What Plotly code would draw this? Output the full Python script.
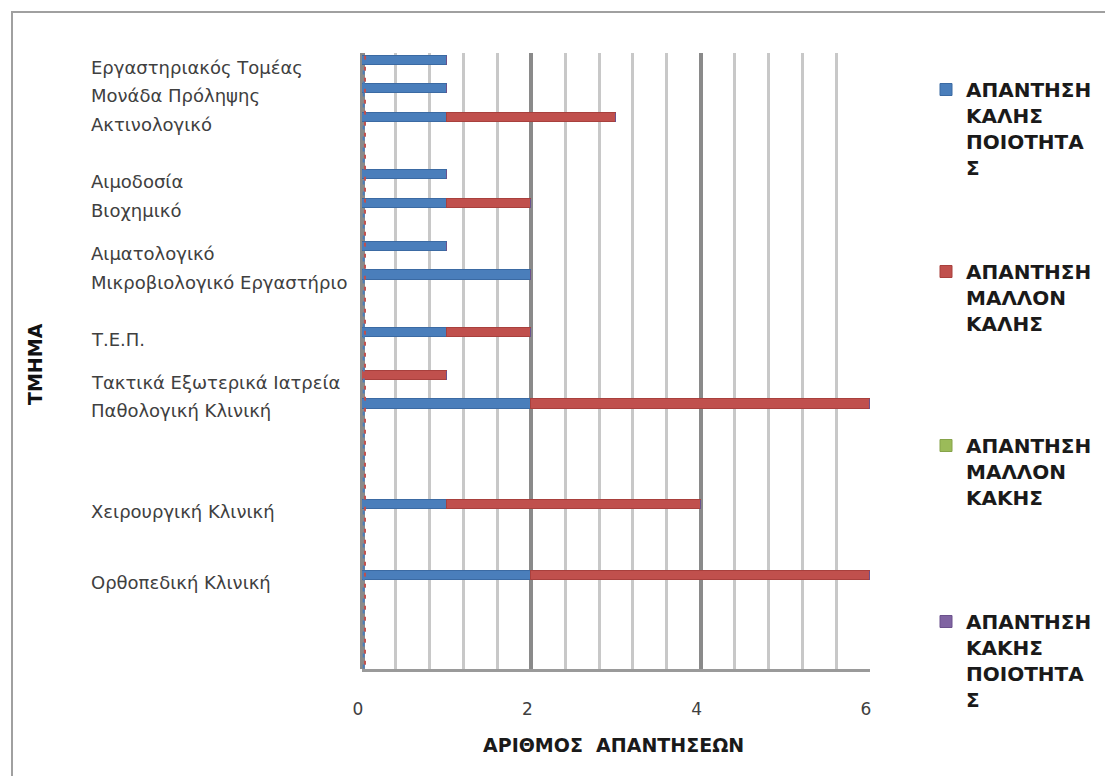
import plotly.graph_objects as go

# Departments (top to bottom) and the row slot each one occupies on the axis
departments = [
    "Εργαστηριακός Τομέας",
    "Μονάδα Πρόληψης",
    "Ακτινολογικό",
    "Αιμοδοσία",
    "Βιοχημικό",
    "Αιματολογικό",
    "Μικροβιολογικό Εργαστήριο",
    "Τ.Ε.Π.",
    "Τακτικά Εξωτερικά Ιατρεία",
    "Παθολογική Κλινική",
    "Χειρουργική Κλινική",
    "Ορθοπεδική Κλινική",
]
row_slots = [0, 2, 4, 8, 10, 13, 15, 19, 22, 24, 31, 36]

# Number of answers per department, per answer category
good_quality = [1, 1, 1, 1, 1, 1, 2, 1, 0, 2, 1, 2]
rather_good = [0, 0, 2, 0, 1, 0, 0, 1, 1, 4, 3, 4]
rather_bad = [0, 0, 0, 0, 0, 0, 0, 0, 0, 0, 0, 0]
bad_quality = [0, 0, 0, 0, 0, 0, 0, 0, 0, 0, 0, 0]

series_names = [
    "ΑΠΑΝΤΗΣΗ<br>ΚΑΛΗΣ<br>ΠΟΙΟΤΗΤΑ<br>Σ",
    "ΑΠΑΝΤΗΣΗ<br>ΜΑΛΛΟΝ<br>ΚΑΛΗΣ",
    "ΑΠΑΝΤΗΣΗ<br>ΜΑΛΛΟΝ<br>ΚΑΚΗΣ",
    "ΑΠΑΝΤΗΣΗ<br>ΚΑΚΗΣ<br>ΠΟΙΟΤΗΤΑ<br>Σ",
]
x_ticks = [0, 2, 4, 6]
x_title = "ΑΡΙΘΜΟΣ  ΑΠΑΝΤΗΣΕΩΝ"
y_title = "ΤΜΗΜΑ"

W, H = 1105, 776
L, R, T, B = 362, 870, 53, 669  # plot area in pixels


def px_x(p):
    return (p - L) / (R - L)


def px_y(p):
    return (B - p) / (B - T)


fills = ["#4a7ebb", "#c0504d", "#9bbb59", "#8064a2"]
edges = ["#3b6aa3", "#a8403d", "#86a34a", "#6b518c"]
values = [good_quality, rather_good, rather_bad, bad_quality]
legend_ids = ["legend", "legend2", "legend3", "legend4"]
legend_tops = [70, 252, 426, 602]

fig = go.Figure()
for name, vals, fc, ec, lg in zip(series_names, values, fills, edges, legend_ids):
    fig.add_trace(go.Bar(
        y=row_slots, x=vals, orientation="h", name=name, width=0.64,
        marker=dict(color=fc, line=dict(color=ec, width=1)),
        legend=lg, hoverinfo="skip",
    ))

legend_font = dict(family="DejaVu Sans", size=20, color="#1a1a1a", weight="bold")
legend_common = dict(
    xanchor="left", yanchor="top", valign="top", bgcolor="rgba(0,0,0,0)",
    borderwidth=0, font=legend_font, itemwidth=30,
)
layout_legends = {}
for lg, top in zip(legend_ids, legend_tops):
    layout_legends[lg] = dict(x=px_x(926), y=px_y(top), **legend_common)

annotations = []
for dep, slot in zip(departments, row_slots):
    annotations.append(dict(
        text=dep, x=px_x(89), xref="paper", xanchor="left",
        y=slot, yref="y", yanchor="middle", yshift=-7, showarrow=False,
        font=dict(family="DejaVu Sans", size=18, color="#404040"),
    ))
annotations.append(dict(
    text=y_title, x=px_x(35), y=px_y(364), xref="paper", yref="paper",
    xanchor="center", yanchor="middle", textangle=-90, showarrow=False,
    font=dict(family="DejaVu Sans", size=19, color="#111111", weight="bold"),
))
annotations.append(dict(
    text=x_title, x=px_x(613), y=px_y(745), xref="paper", yref="paper",
    xanchor="center", yanchor="middle", showarrow=False,
    font=dict(family="DejaVu Sans", size=19, color="#1a1a1a", weight="bold"),
))

shapes = [
    # outer chart frame
    dict(type="rect", xref="paper", yref="paper",
         x0=px_x(12), x1=px_x(1120), y0=px_y(12), y1=px_y(800),
         line=dict(color="#a0a0a0", width=2), layer="below"),
    # dashed edges of the empty series along the value axis origin
    dict(type="line", xref="x", yref="y", x0=0.035, x1=0.035, y0=-0.3, y1=42.5,
         line=dict(color="#c0504d", width=2, dash="4px,7px")),
    dict(type="line", xref="x", yref="y", x0=0.02, x1=0.02, y0=-0.05, y1=42.5,
         line=dict(color="#4a7ebb", width=2, dash="4px,7px")),
]

fig.update_layout(
    width=W, height=H,
    margin=dict(l=L, r=W - R, t=T, b=H - B, autoexpand=False),
    paper_bgcolor="white", plot_bgcolor="white",
    barmode="stack", bargap=0,
    showlegend=True,
    annotations=annotations, shapes=shapes,
    **layout_legends,
)
fig.update_xaxes(
    range=[0, 6], tickvals=x_ticks, ticktext=[str(v) for v in x_ticks],
    showgrid=True, gridcolor="#8a8a8a", gridwidth=4,
    minor=dict(dtick=0.4, showgrid=True, gridcolor="#c8c8c8", gridwidth=3),
    zeroline=True, zerolinecolor="#8a8a8a", zerolinewidth=5,
    showline=True, linecolor="#9a9a9a", linewidth=3,
    ticks="", ticklabelstandoff=23, ticklabelshift=-4,
    tickfont=dict(family="DejaVu Sans", size=17, color="#404040"),
)
fig.update_yaxes(
    range=[42.5, -0.5], showticklabels=False, showgrid=False,
    zeroline=False, showline=False,
)

fig.write_html("out.html")
